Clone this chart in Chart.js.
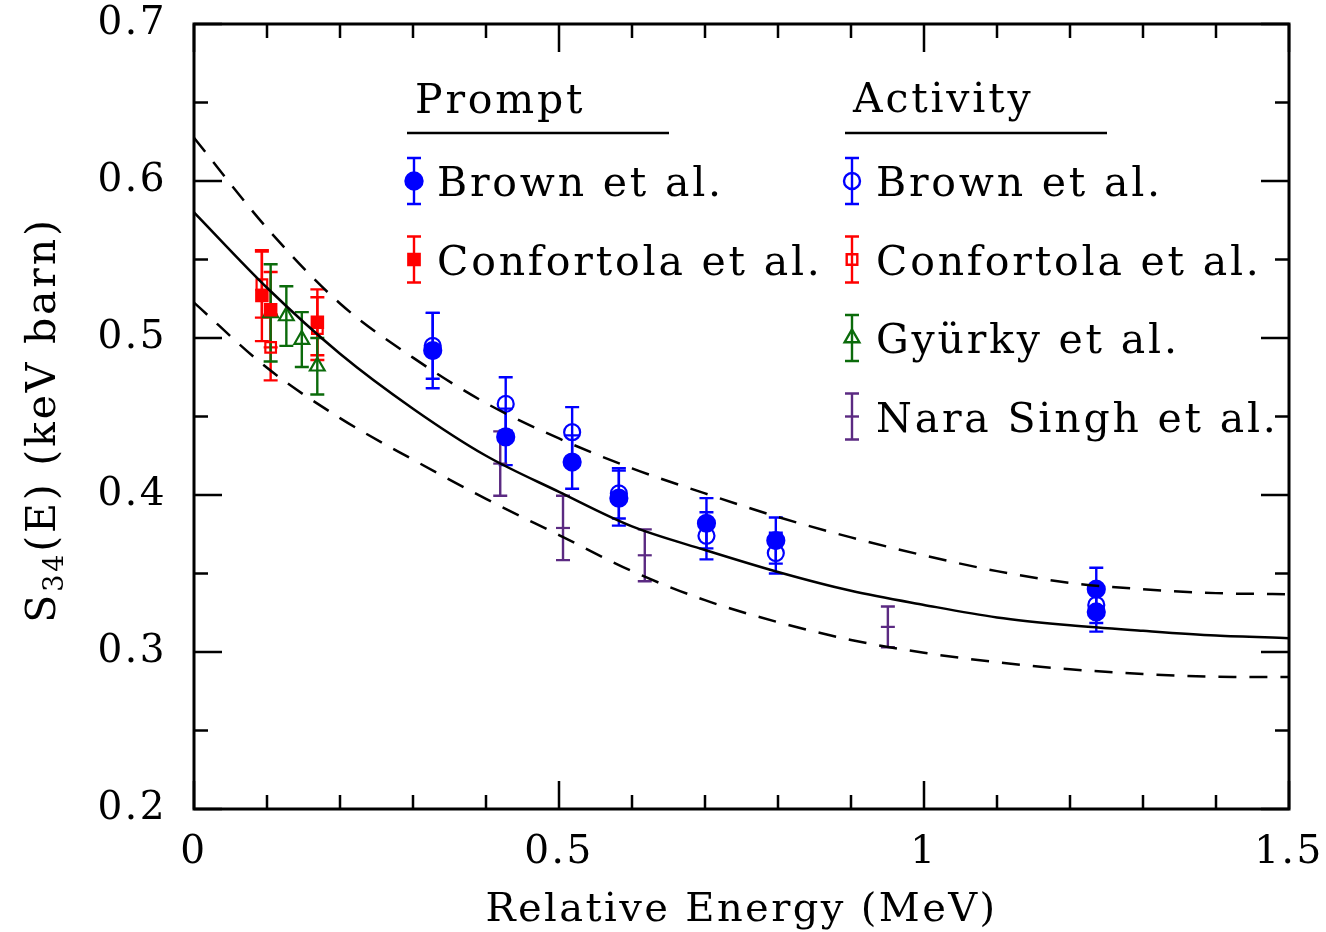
<!DOCTYPE html>
<html>
<head>
<meta charset="utf-8">
<script src="https://cdn.jsdelivr.net/npm/chart.js@4/dist/chart.umd.min.js"></script>
<style>
  html, body { margin: 0; padding: 0; background: #fff; }
  #wrap { width: 1326px; height: 932px; }
</style>
</head>
<body>
<div id="wrap"><canvas id="s34"></canvas></div>
<script>
// fit curve and its band
const curveE  = [0, 0.1, 0.2, 0.3, 0.4, 0.5, 0.6, 0.7, 0.8, 0.9, 1.0, 1.1, 1.2, 1.3, 1.4, 1.5];
const fitS    = [0.580, 0.532, 0.490, 0.455, 0.425, 0.402, 0.380, 0.365, 0.351, 0.339, 0.330, 0.322, 0.317, 0.3135, 0.3105, 0.3088];
const fitHigh = [0.6275, 0.570, 0.522, 0.4875, 0.4585, 0.436, 0.417, 0.401, 0.386, 0.373, 0.3615, 0.3515, 0.344, 0.340, 0.3375, 0.3368];
const fitLow  = [0.5225, 0.481, 0.449, 0.4225, 0.3975, 0.3745, 0.3515, 0.333, 0.319, 0.3077, 0.2995, 0.2935, 0.289, 0.286, 0.2842, 0.2840];

// Brown et al. (prompt = filled, activity = open)
const brownPromptE = [0.327, 0.427, 0.518, 0.582, 0.702, 0.797, 1.236, 1.236];
const brownPromptS = [0.492, 0.437, 0.421, 0.398, 0.382, 0.371, 0.340, 0.3255];
const brownPromptErr = [0.024, 0.018, 0.017, 0.0175, 0.016, 0.0147, 0.0137, 0.0125];
const brownActE = [0.327, 0.427, 0.518, 0.582, 0.702, 0.797, 1.236];
const brownActS = [0.495, 0.458, 0.440, 0.401, 0.374, 0.363, 0.330];
const brownActErr = [0.021, 0.017, 0.016, 0.016, 0.015, 0.013, 0.0115];

// Confortola et al.
const confPromptE = [0.093, 0.105, 0.169];
const confPromptS = [0.527, 0.518, 0.510];
const confPromptErr = [0.029, 0.024, 0.021];
const confActE = [0.093, 0.105, 0.169];
const confActS = [0.534, 0.494, 0.506];
const confActErr = [0.021, 0.021, 0.020];

// Gyurky et al.
const gyurkyE = [0.105, 0.1265, 0.1477, 0.1689];
const gyurkyS = [0.516, 0.514, 0.499, 0.482];
const gyurkyErr = [0.031, 0.019, 0.0175, 0.018];

// Nara Singh et al.
const naraE = [0.4195, 0.5055, 0.6175, 0.9505];
const naraS = [0.420, 0.379, 0.3616, 0.316];
const naraErr = [0.0205, 0.0205, 0.0165, 0.013];

const xTickLabels = ['0', '0.5', '1', '1.5'];
const yTickLabels = ['0.2', '0.3', '0.4', '0.5', '0.6', '0.7'];

const FONT = '"DejaVu Serif", serif';
const BLUE = '#0000ff', RED = '#ff0000', GREEN = '#0b6b0b', PURPLE = '#5b2a82';

const pts = (xs, ys) => xs.map((x, i) => ({ x: x, y: ys[i] }));

function curve(ys, dash) {
  return {
    data: pts(curveE, ys), showLine: true, pointRadius: 0, borderColor: '#000',
    borderWidth: 2.5, borderDash: dash, cubicInterpolationMode: 'monotone'
  };
}

function marks(label, xs, ys, errs, color, style, radius, filled) {
  return {
    label: label, data: pts(xs, ys), errs: errs, showLine: false,
    pointStyle: style, pointRadius: radius, pointBorderWidth: 2.2,
    pointBorderColor: color, pointBackgroundColor: filled ? color : 'rgba(0,0,0,0)',
    borderColor: color, backgroundColor: filled ? color : 'rgba(0,0,0,0)'
  };
}

// scales should not push the plot area in for overhanging labels
function noOverhang(s) {
  s.paddingTop = 0; s.paddingBottom = 0; s.paddingLeft = 0; s.paddingRight = 0;
}

const errorBars = {
  id: 'errorBars',
  beforeDatasetsDraw(chart) {
    const ctx = chart.ctx, ys = chart.scales.y;
    chart.data.datasets.forEach((ds, i) => {
      if (!ds.errs) return;
      const meta = chart.getDatasetMeta(i);
      ctx.save();
      ctx.strokeStyle = ds.borderColor;
      ctx.lineWidth = 2.4;
      ctx.beginPath();
      meta.data.forEach((el, j) => {
        const v = ds.data[j].y, e = ds.errs[j];
        const top = ys.getPixelForValue(v + e), bot = ys.getPixelForValue(v - e);
        ctx.moveTo(el.x, top); ctx.lineTo(el.x, bot);
        ctx.moveTo(el.x - 7, top); ctx.lineTo(el.x + 7, top);
        ctx.moveTo(el.x - 7, bot); ctx.lineTo(el.x + 7, bot);
      });
      ctx.stroke();
      ctx.restore();
    });
  }
};

function legendItem(ctx, ds, mx, tx, cy) {
  ctx.strokeStyle = ds.borderColor;
  ctx.lineWidth = 2.4;
  ctx.beginPath();
  ctx.moveTo(mx, cy - 23); ctx.lineTo(mx, cy + 23);
  ctx.moveTo(mx - 7, cy - 23); ctx.lineTo(mx + 7, cy - 23);
  ctx.moveTo(mx - 7, cy + 23); ctx.lineTo(mx + 7, cy + 23);
  ctx.stroke();
  ctx.fillStyle = ds.pointBackgroundColor;
  Chart.helpers.drawPoint(ctx, { pointStyle: ds.pointStyle, radius: ds.pointRadius, borderWidth: 2.2, rotation: 0 }, mx, cy);
  ctx.fillStyle = '#000';
  ctx.fillText(ds.label, tx, cy + 15);
}

const decor = {
  id: 'decor',
  beforeDraw(chart) { chart.ctx.letterSpacing = '2.5px'; },
  afterDraw(chart) {
    const ctx = chart.ctx, a = chart.chartArea, xs = chart.scales.x, ys = chart.scales.y;
    ctx.save();
    // frame and inward ticks
    ctx.strokeStyle = '#000';
    ctx.lineWidth = 3;
    ctx.strokeRect(a.left, a.top, a.right - a.left, a.bottom - a.top);
    ctx.lineWidth = 2.5;
    ctx.beginPath();
    for (let k = 0; k <= 15; k++) {
      const px = xs.getPixelForValue(k / 10), len = k % 5 === 0 ? 28 : 14;
      ctx.moveTo(px, a.bottom); ctx.lineTo(px, a.bottom - len);
      ctx.moveTo(px, a.top); ctx.lineTo(px, a.top + len);
    }
    for (let k = 0; k <= 10; k++) {
      const py = ys.getPixelForValue(0.2 + k * 0.05), len = k % 2 === 0 ? 28 : 14;
      ctx.moveTo(a.left, py); ctx.lineTo(a.left + len, py);
      ctx.moveTo(a.right, py); ctx.lineTo(a.right - len, py);
    }
    ctx.stroke();

    // axis titles
    ctx.fillStyle = '#000';
    ctx.letterSpacing = '2.4px';
    ctx.font = '40px ' + FONT;
    ctx.textAlign = 'center';
    ctx.textBaseline = 'alphabetic';
    ctx.fillText('Relative Energy (MeV)', (a.left + a.right) / 2, 921);

    ctx.save();
    ctx.translate(55, 420);
    ctx.rotate(-Math.PI / 2);
    ctx.textAlign = 'left';
    ctx.letterSpacing = '2.8px';
    const big = '41px ' + FONT, small = '27px ' + FONT;
    ctx.font = big; const w1 = ctx.measureText('S').width;
    ctx.font = small; const w2 = ctx.measureText('34').width;
    ctx.font = big; const w3 = ctx.measureText('(E) (keV barn)').width;
    let u = -(w1 + w2 + w3) / 2;
    ctx.fillText('S', u, 0); u += w1;
    ctx.font = small; ctx.fillText('34', u, 8); u += w2;
    ctx.font = big; ctx.fillText('(E) (keV barn)', u, 0);
    ctx.restore();

    // legend
    const ds = chart.data.datasets;
    ctx.font = '41px ' + FONT;
    ctx.letterSpacing = '2.8px';
    ctx.textAlign = 'left';
    ctx.fillText('Prompt', 415, 113);
    ctx.fillText('Activity', 853, 112);
    ctx.lineWidth = 2.5;
    ctx.beginPath();
    ctx.moveTo(407, 133); ctx.lineTo(669, 133);
    ctx.moveTo(845, 133); ctx.lineTo(1107, 133);
    ctx.stroke();
    const prompt = [ds[3], ds[5]];
    const activity = [ds[4], ds[6], ds[7], ds[8]];
    prompt.forEach((d, i) => legendItem(ctx, d, 414, 437, 181 + i * 78.5));
    activity.forEach((d, i) => legendItem(ctx, d, 852, 876, 181 + i * 78.5));
    ctx.restore();
  }
};

Chart.defaults.font.family = FONT;
Chart.defaults.color = '#000';

new Chart(document.getElementById('s34'), {
  type: 'scatter',
  data: {
    datasets: [
      curve(fitS, []),
      curve(fitHigh, [18, 13]),
      curve(fitLow, [18, 13]),
      marks('Brown et al.', brownPromptE, brownPromptS, brownPromptErr, BLUE, 'circle', 8.5, true),
      marks('Brown et al.', brownActE, brownActS, brownActErr, BLUE, 'circle', 8, false),
      marks('Confortola et al.', confPromptE, confPromptS, confPromptErr, RED, 'rect', 8, true),
      marks('Confortola et al.', confActE, confActS, confActErr, RED, 'rect', 7.5, false),
      marks('Gyürky et al.', gyurkyE, gyurkyS, gyurkyErr, GREEN, 'triangle', 8.5, false),
      marks('Nara Singh et al.', naraE, naraS, naraErr, PURPLE, 'line', 7, false)
    ]
  },
  options: {
    responsive: true,
    maintainAspectRatio: false,
    animation: false,
    devicePixelRatio: 1,
    layout: { padding: { top: 24, right: 37, bottom: 0, left: 0 } },
    plugins: { legend: { display: false }, tooltip: { enabled: false } },
    scales: {
      x: {
        type: 'linear', min: 0, max: 1.5,
        grid: { display: false, drawTicks: false },
        border: { display: false },
        ticks: {
          stepSize: 0.5, padding: 20, maxRotation: 0,
          font: { size: 39 },
          callback: (v, i) => xTickLabels[i]
        },
        afterFit: s => { s.height = 123; noOverhang(s); }
      },
      y: {
        min: 0.2, max: 0.7,
        grid: { display: false, drawTicks: false },
        border: { display: false },
        ticks: {
          stepSize: 0.1, padding: 27,
          font: { size: 39 },
          callback: (v, i) => yTickLabels[i]
        },
        afterFit: s => { s.width = 194; noOverhang(s); }
      }
    }
  },
  plugins: [errorBars, decor]
});
</script>
</body>
</html>
